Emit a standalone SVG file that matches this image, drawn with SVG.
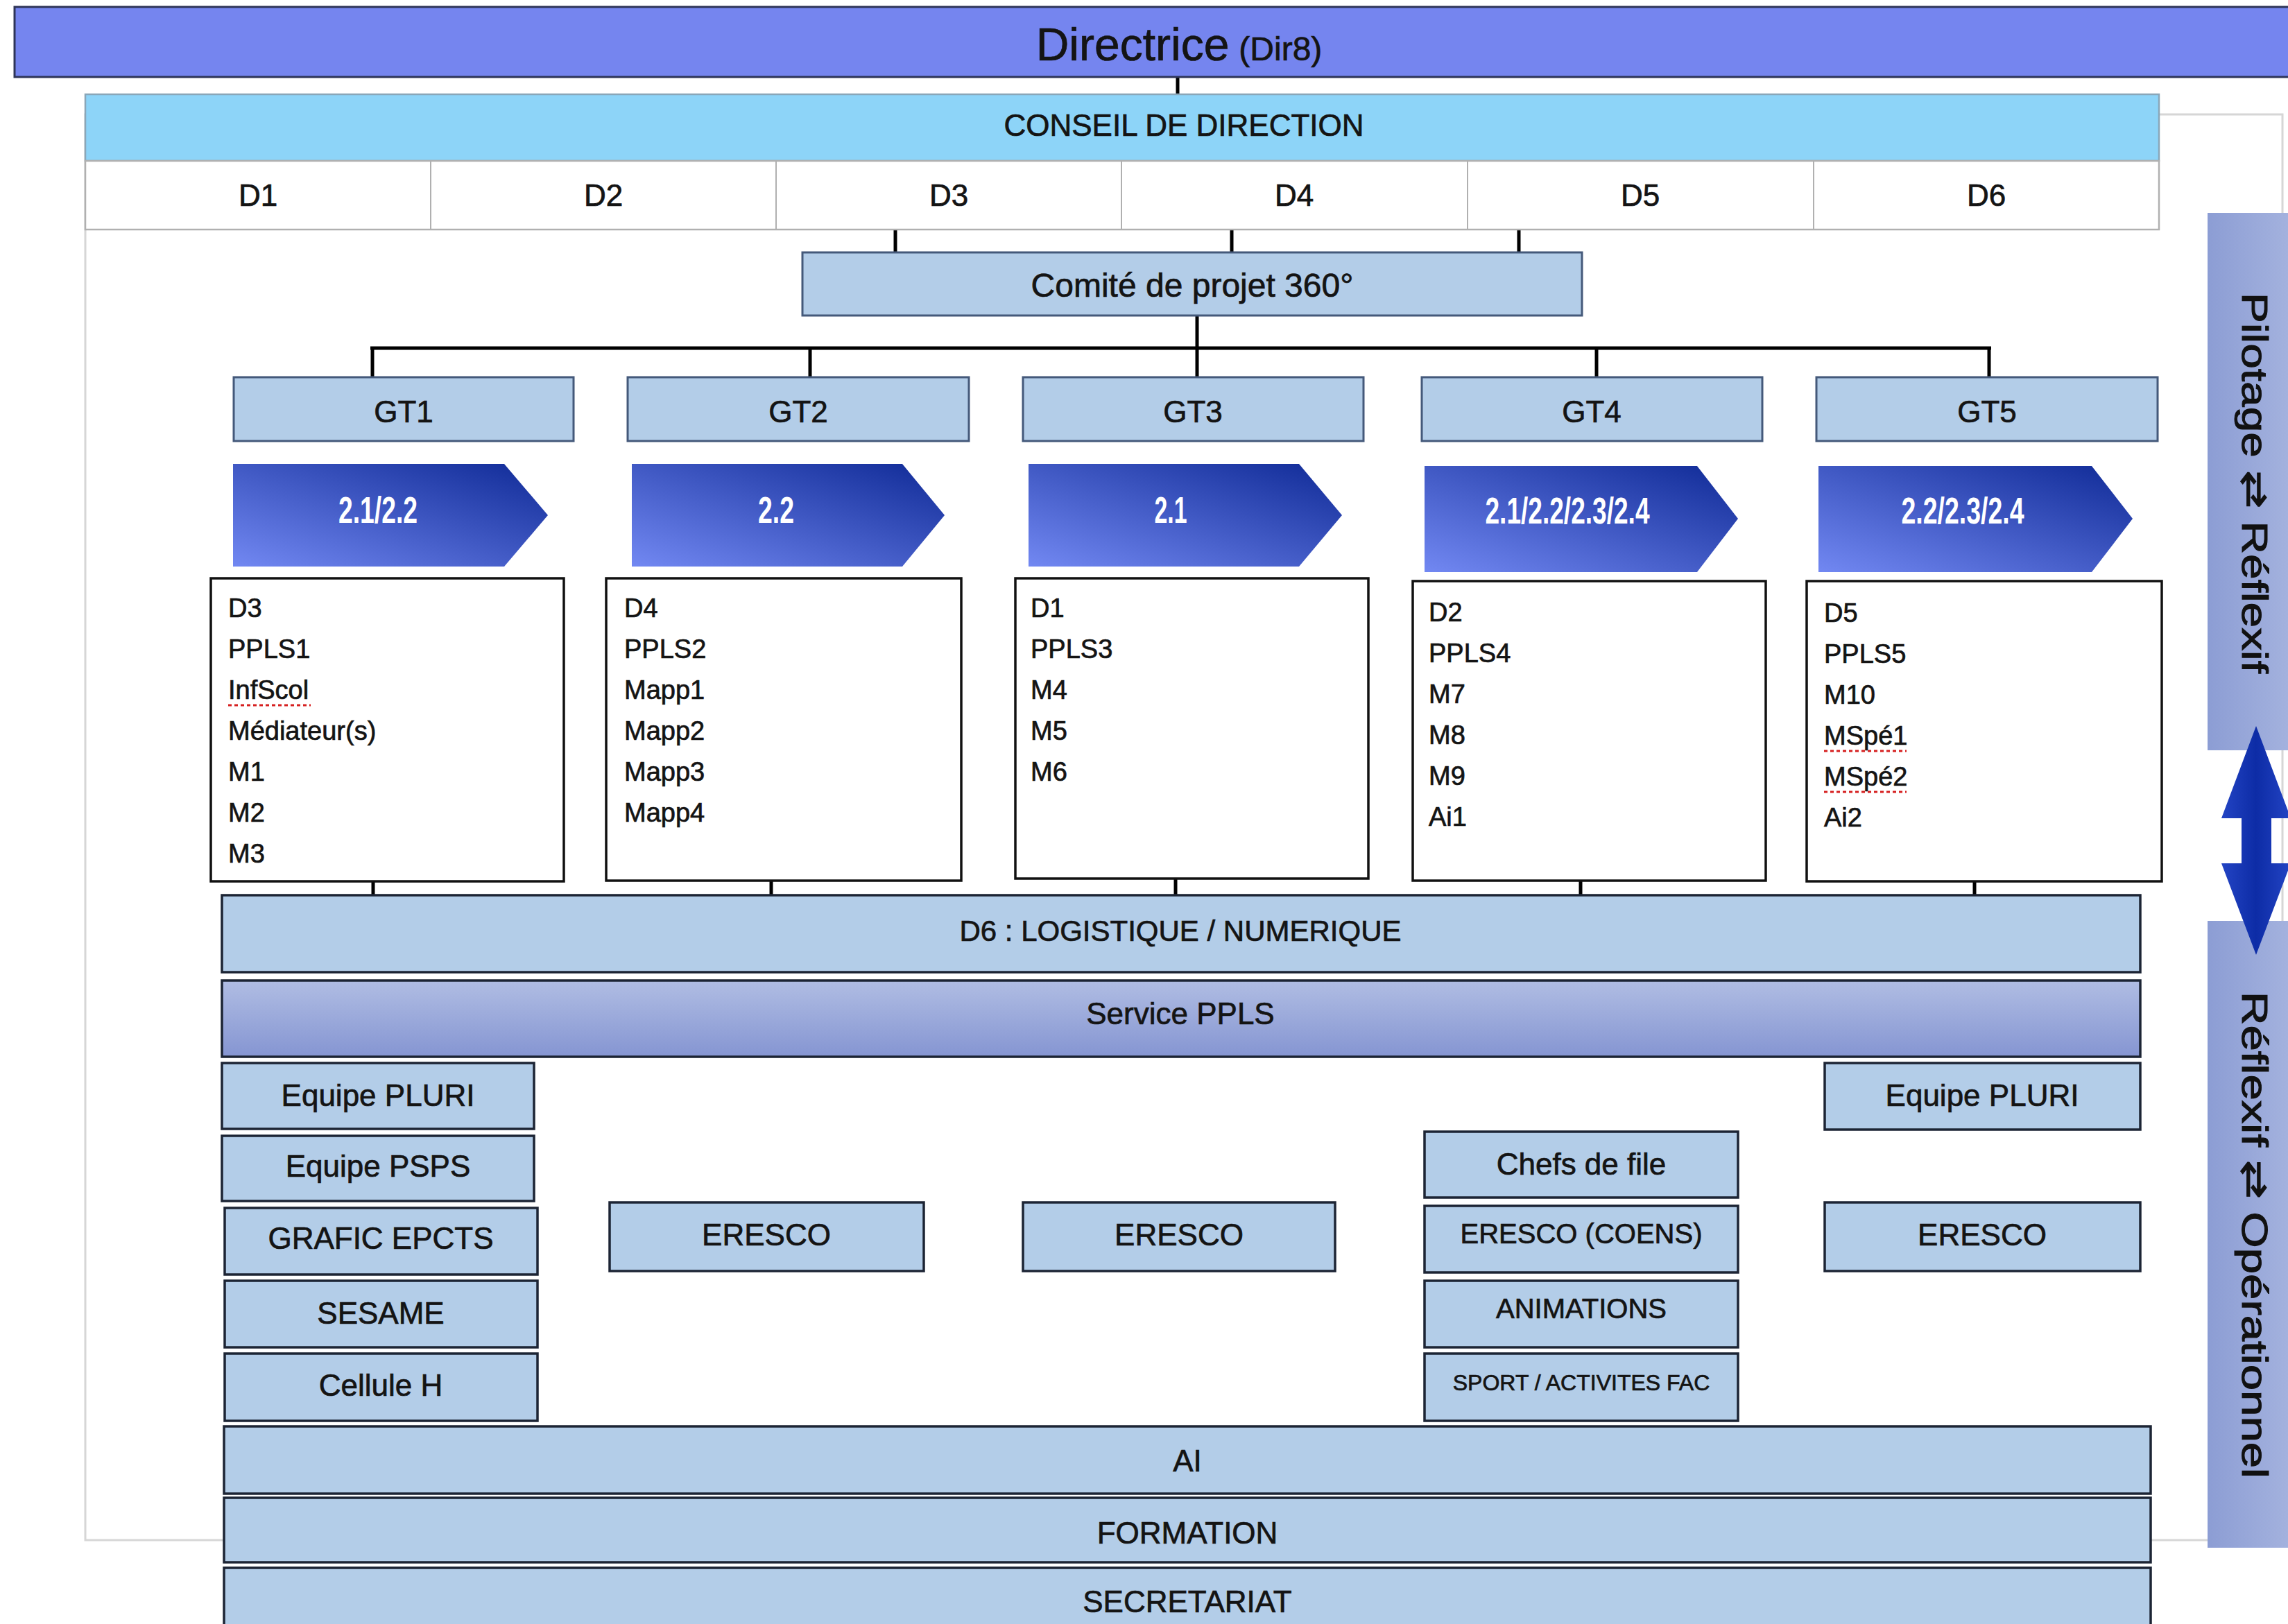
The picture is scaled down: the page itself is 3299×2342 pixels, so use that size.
<svg xmlns="http://www.w3.org/2000/svg" width="3299" height="2342" viewBox="0 0 3299 2342">
<style>
.t{font-family:"Liberation Sans","DejaVu Sans",Arial,sans-serif;fill:#141414;stroke:#141414;stroke-width:0.7}
.c{text-anchor:middle}
.f44{font-size:44px}
.f38{font-size:38px}
.box{fill:#b3cde8;stroke:#1c2434;stroke-width:3.5}
.gt{fill:#b3cde8;stroke:#44597a;stroke-width:3}
.list{fill:#ffffff;stroke:#111111;stroke-width:3.5}
.ln{stroke:#000;stroke-width:5;fill:none}
.arr{fill:url(#ag)}
.at{font-family:"Liberation Sans",Arial,sans-serif;font-weight:bold;fill:#ffffff;font-size:54px;text-anchor:middle}
.side{fill:url(#sg)}
.st{font-family:"Liberation Sans","DejaVu Sans",Arial,sans-serif;font-size:52px;fill:#111;stroke:#111;stroke-width:1}
.spell{stroke:#d62020;stroke-width:3;stroke-dasharray:5 4;fill:none}
</style>
<defs>
<linearGradient id="ag" x1="0" y1="1" x2="1" y2="0">
<stop offset="0" stop-color="#7288f2"/>
<stop offset="1" stop-color="#0f2a96"/>
</linearGradient>
<linearGradient id="pg" x1="0" y1="0" x2="0" y2="1">
<stop offset="0" stop-color="#b0bde3"/>
<stop offset="1" stop-color="#8595d2"/>
</linearGradient>
<linearGradient id="sg" x1="0" y1="0" x2="1" y2="0">
<stop offset="0" stop-color="#8c9dd4"/>
<stop offset="1" stop-color="#a6b4df"/>
</linearGradient>
<linearGradient id="dg" x1="0" y1="0" x2="1" y2="0">
<stop offset="0" stop-color="#2344c4"/>
<stop offset="0.5" stop-color="#0d2ca6"/>
<stop offset="1" stop-color="#2344c4"/>
</linearGradient>
</defs>
<rect x="0" y="0" width="3299" height="2342" fill="#ffffff"/>

<rect id="frame" x="123" y="165" width="3168" height="2056" fill="none" stroke="#d6d6d6" stroke-width="3"/>

<g id="connectors">
<line class="ln" x1="1698" y1="111" x2="1698" y2="136"/>
<line class="ln" x1="1291" y1="331" x2="1291" y2="364"/>
<line class="ln" x1="1776" y1="331" x2="1776" y2="364"/>
<line class="ln" x1="2190" y1="331" x2="2190" y2="364"/>
<line class="ln" x1="1726" y1="455" x2="1726" y2="544" stroke-width="6"/>
<line class="ln" x1="534" y1="502" x2="2871" y2="502" stroke-width="9"/>
<line class="ln" x1="537" y1="502" x2="537" y2="544" stroke-width="6"/>
<line class="ln" x1="1168" y1="502" x2="1168" y2="544" stroke-width="6"/>
<line class="ln" x1="2302" y1="502" x2="2302" y2="544" stroke-width="6"/>
<line class="ln" x1="2868" y1="502" x2="2868" y2="544" stroke-width="6"/>
<line class="ln" x1="538" y1="1271" x2="538" y2="1291"/>
<line class="ln" x1="1112" y1="1270" x2="1112" y2="1291"/>
<line class="ln" x1="1695" y1="1267" x2="1695" y2="1291"/>
<line class="ln" x1="2279" y1="1270" x2="2279" y2="1291"/>
<line class="ln" x1="2847" y1="1271" x2="2847" y2="1291"/>
</g>

<g id="directrice">
<rect x="21" y="10" width="3290" height="101" fill="#7585ef" stroke="#2e3558" stroke-width="3"/>
<text class="t c" x="1700" y="87"><tspan font-size="66">Directrice</tspan><tspan font-size="48" dx="14">(Dir8)</tspan></text>
</g>

<g id="conseil">
<rect x="123" y="136" width="2990" height="96" fill="#8dd4f8" stroke="#8aa6b8" stroke-width="2.5"/>
<text class="t c f44" x="1707" y="196">CONSEIL DE DIRECTION</text>
</g>

<g id="drow">
<rect x="123" y="232" width="2990" height="99" fill="#ffffff" stroke="#b0b0b0" stroke-width="2.5"/>
<line x1="621" y1="232" x2="621" y2="331" stroke="#b0b0b0" stroke-width="2"/>
<line x1="1119" y1="232" x2="1119" y2="331" stroke="#b0b0b0" stroke-width="2"/>
<line x1="1617" y1="232" x2="1617" y2="331" stroke="#b0b0b0" stroke-width="2"/>
<line x1="2116" y1="232" x2="2116" y2="331" stroke="#b0b0b0" stroke-width="2"/>
<line x1="2615" y1="232" x2="2615" y2="331" stroke="#b0b0b0" stroke-width="2"/>
<text class="t c f44" x="372" y="297">D1</text>
<text class="t c f44" x="870" y="297">D2</text>
<text class="t c f44" x="1368" y="297">D3</text>
<text class="t c f44" x="1866" y="297">D4</text>
<text class="t c f44" x="2365" y="297">D5</text>
<text class="t c f44" x="2864" y="297">D6</text>
</g>

<g id="comite">
<rect class="gt" x="1157" y="364" width="1124" height="91"/>
<text class="t c" font-size="48" x="1719" y="428">Comité de projet 360°</text>
</g>

<g id="gt1"><rect class="gt" x="337" y="544" width="490" height="92"/><text class="t c f44" x="582" y="609">GT1</text></g>
<g id="gt2"><rect class="gt" x="905" y="544" width="492" height="92"/><text class="t c f44" x="1151" y="609">GT2</text></g>
<g id="gt3"><rect class="gt" x="1475" y="544" width="491" height="92"/><text class="t c f44" x="1720" y="609">GT3</text></g>
<g id="gt4"><rect class="gt" x="2050" y="544" width="491" height="92"/><text class="t c f44" x="2295" y="609">GT4</text></g>
<g id="gt5"><rect class="gt" x="2619" y="544" width="492" height="92"/><text class="t c f44" x="2865" y="609">GT5</text></g>

<g id="arrow1"><polygon class="arr" points="336,669 727,669 790,743 727,817 336,817"/><text class="at" x="545" y="754" textLength="114" lengthAdjust="spacingAndGlyphs">2.1/2.2</text></g>
<g id="arrow2"><polygon class="arr" points="911,669 1301,669 1362,743 1301,817 911,817"/><text class="at" x="1119" y="754" textLength="52" lengthAdjust="spacingAndGlyphs">2.2</text></g>
<g id="arrow3"><polygon class="arr" points="1483,669 1873,669 1935,743 1873,817 1483,817"/><text class="at" x="1688" y="754" textLength="47" lengthAdjust="spacingAndGlyphs">2.1</text></g>
<g id="arrow4"><polygon class="arr" points="2054,672 2447,672 2506,748 2447,825 2054,825"/><text class="at" x="2260" y="755" textLength="237" lengthAdjust="spacingAndGlyphs">2.1/2.2/2.3/2.4</text></g>
<g id="arrow5"><polygon class="arr" points="2622,672 3016,672 3075,748 3016,825 2622,825"/><text class="at" x="2830" y="755" textLength="177" lengthAdjust="spacingAndGlyphs">2.2/2.3/2.4</text></g>

<g id="list1">
<rect class="list" x="304" y="834" width="509" height="437"/>
<text class="t f38" x="329" y="890">D3</text>
<text class="t f38" x="329" y="949">PPLS1</text>
<text class="t f38" x="329" y="1008">InfScol</text>
<text class="t f38" x="329" y="1067">Médiateur(s)</text>
<text class="t f38" x="329" y="1126">M1</text>
<text class="t f38" x="329" y="1185">M2</text>
<text class="t f38" x="329" y="1244">M3</text>
<line class="spell" x1="329" y1="1017" x2="448" y2="1017"/>
</g>
<g id="list2">
<rect class="list" x="874" y="834" width="512" height="436"/>
<text class="t f38" x="900" y="890">D4</text>
<text class="t f38" x="900" y="949">PPLS2</text>
<text class="t f38" x="900" y="1008">Mapp1</text>
<text class="t f38" x="900" y="1067">Mapp2</text>
<text class="t f38" x="900" y="1126">Mapp3</text>
<text class="t f38" x="900" y="1185">Mapp4</text>
</g>
<g id="list3">
<rect class="list" x="1464" y="834" width="509" height="433"/>
<text class="t f38" x="1486" y="890">D1</text>
<text class="t f38" x="1486" y="949">PPLS3</text>
<text class="t f38" x="1486" y="1008">M4</text>
<text class="t f38" x="1486" y="1067">M5</text>
<text class="t f38" x="1486" y="1126">M6</text>
</g>
<g id="list4">
<rect class="list" x="2037" y="838" width="509" height="432"/>
<text class="t f38" x="2060" y="896">D2</text>
<text class="t f38" x="2060" y="955">PPLS4</text>
<text class="t f38" x="2060" y="1014">M7</text>
<text class="t f38" x="2060" y="1073">M8</text>
<text class="t f38" x="2060" y="1132">M9</text>
<text class="t f38" x="2060" y="1191">Ai1</text>
</g>
<g id="list5">
<rect class="list" x="2605" y="838" width="512" height="433"/>
<text class="t f38" x="2630" y="897">D5</text>
<text class="t f38" x="2630" y="956">PPLS5</text>
<text class="t f38" x="2630" y="1015">M10</text>
<text class="t f38" x="2630" y="1074">MSpé1</text>
<text class="t f38" x="2630" y="1133">MSpé2</text>
<text class="t f38" x="2630" y="1192">Ai2</text>
<line class="spell" x1="2630" y1="1083" x2="2749" y2="1083"/>
<line class="spell" x1="2630" y1="1142" x2="2749" y2="1142"/>
</g>

<g id="d6"><rect class="box" x="320" y="1291" width="2766" height="111"/><text class="t c" font-size="42" x="1702" y="1357">D6 : LOGISTIQUE / NUMERIQUE</text></g>
<g id="servicepp"><rect x="320" y="1414" width="2766" height="110" fill="url(#pg)" stroke="#1c2434" stroke-width="3.5"/><text class="t c f44" x="1702" y="1477">Service PPLS</text></g>

<g id="pluri1"><rect class="box" x="320" y="1533" width="450" height="95"/><text class="t c f44" x="545" y="1595">Equipe PLURI</text></g>
<g id="psps"><rect class="box" x="320" y="1638" width="450" height="94"/><text class="t c f44" x="545" y="1697">Equipe PSPS</text></g>
<g id="grafic"><rect class="box" x="324" y="1742" width="451" height="96"/><text class="t c f44" x="549" y="1801">GRAFIC EPCTS</text></g>
<g id="sesame"><rect class="box" x="324" y="1847" width="451" height="96"/><text class="t c f44" x="549" y="1909">SESAME</text></g>
<g id="celluleh"><rect class="box" x="324" y="1952" width="451" height="97"/><text class="t c f44" x="549" y="2013">Cellule H</text></g>

<g id="eresco1"><rect class="box" x="879" y="1734" width="453" height="99"/><text class="t c f44" x="1105" y="1796">ERESCO</text></g>
<g id="eresco2"><rect class="box" x="1475" y="1734" width="450" height="99"/><text class="t c f44" x="1700" y="1796">ERESCO</text></g>

<g id="chefs"><rect class="box" x="2054" y="1632" width="452" height="95"/><text class="t c f44" x="2280" y="1694">Chefs de file</text></g>
<g id="coens"><rect class="box" x="2054" y="1739" width="452" height="96"/><text class="t c" font-size="40" x="2280" y="1793">ERESCO (COENS)</text></g>
<g id="animations"><rect class="box" x="2054" y="1847" width="452" height="96"/><text class="t c" font-size="40" x="2280" y="1901">ANIMATIONS</text></g>
<g id="sport"><rect class="box" x="2054" y="1952" width="452" height="97"/><text class="t c" font-size="32" x="2280" y="2005">SPORT / ACTIVITES FAC</text></g>

<g id="pluri2"><rect class="box" x="2631" y="1533" width="455" height="96"/><text class="t c f44" x="2858" y="1595">Equipe PLURI</text></g>
<g id="eresco3"><rect class="box" x="2631" y="1734" width="455" height="99"/><text class="t c f44" x="2858" y="1796">ERESCO</text></g>

<g id="ai"><rect class="box" x="323" y="2057" width="2778" height="97"/><text class="t c f44" x="1712" y="2122">AI</text></g>
<g id="formation"><rect class="box" x="323" y="2160" width="2778" height="93"/><text class="t c f44" x="1712" y="2226">FORMATION</text></g>
<g id="secretariat"><rect class="box" x="323" y="2261" width="2778" height="100"/><text class="t c f44" x="1712" y="2325">SECRETARIAT</text></g>

<g id="pilotage">
<rect class="side" x="3183" y="307" width="130" height="775"/>
<text class="st" transform="translate(3233,422) rotate(90)" textLength="549" lengthAdjust="spacingAndGlyphs">Pilotage ⇄ Réflexif</text>
</g>
<g id="operationnel">
<rect class="side" x="3183" y="1328" width="130" height="904"/>
<text class="st" transform="translate(3233,1430) rotate(90)" textLength="702" lengthAdjust="spacingAndGlyphs">Réflexif ⇄ Opérationnel</text>
</g>
<g id="doublearrow">
<polygon points="3253,1047 3303,1180 3275,1180 3275,1245 3303,1245 3253,1377 3203,1245 3232,1245 3232,1180 3203,1180" fill="url(#dg)"/>
</g>
</svg>
